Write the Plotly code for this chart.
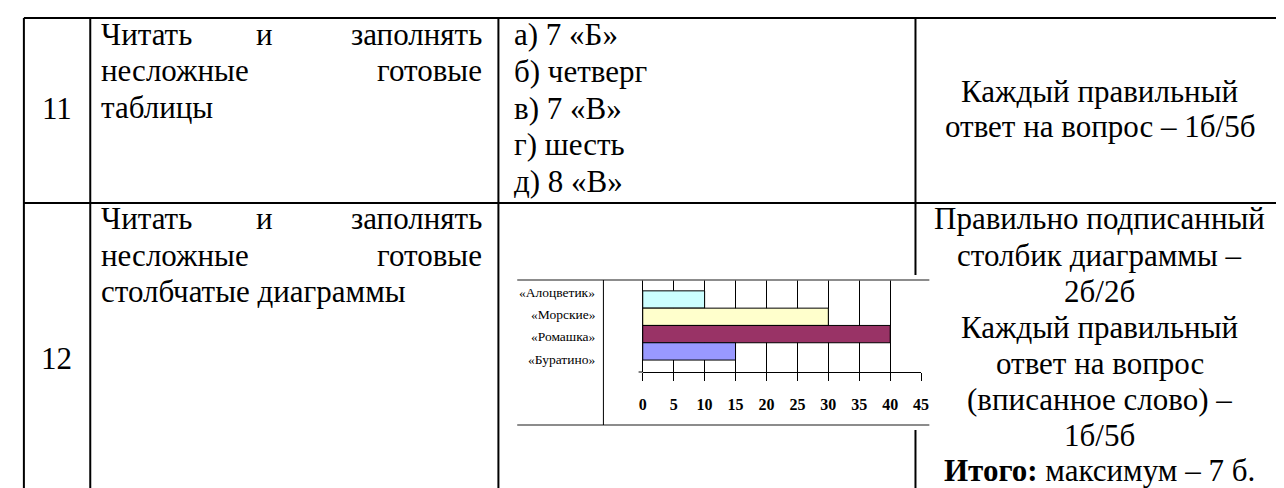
import plotly.graph_objects as go

# ---- chart data ----
categories = ["«Алоцветик»", "«Морские»", "«Ромашка»", "«Буратино»"]
values = [10, 30, 40, 15]
bar_colors = ["#CCFFFF", "#FFFFCC", "#993366", "#9999FF"]
x_ticks = [0, 5, 10, 15, 20, 25, 30, 35, 40, 45]

# ---- table text ----
row_numbers = ["11", "12"]
answers_11 = ["а) 7 «Б»", "б) четверг", "в) 7 «В»", "г) шесть", "д) 8 «В»"]
criteria_11 = ["Каждый правильный", "ответ на вопрос – 1б/5б"]
criteria_12 = ["Правильно подписанный", "столбик диаграммы –", "2б/2б",
               "Каждый правильный", "ответ на вопрос", "(вписанное слово) –",
               "1б/5б"]

W, H = 1284, 488
def px(x):
    return x / W
def py(y):
    return 1 - y / H

SERIF = "Liberation Serif, Times New Roman, serif"
FS = 31
LH = 36.0
TOP11 = 27
TOP12 = 211

fig = go.Figure()
fig.add_trace(go.Bar(
    x=values, y=categories, orientation="h", width=1,
    marker=dict(color=bar_colors, line=dict(color="black", width=1)),
    hoverinfo="skip", showlegend=False,
))

fig.update_layout(
    width=W, height=H, margin=dict(l=0, r=0, t=0, b=0),
    paper_bgcolor="white", plot_bgcolor="white",
    xaxis=dict(domain=[px(636.7), px(917.7)], range=[0, 45],
               tickmode="array", tickvals=x_ticks,
               showgrid=True, gridcolor="black", gridwidth=1,
               zeroline=True, zerolinecolor="black", zerolinewidth=1,
               showline=True, linecolor="black", linewidth=1,
               ticks="outside", ticklen=8, tickcolor="black", tickwidth=1,
               ticklabelstandoff=10,
               tickfont=dict(family=SERIF, size=16, color="black", weight="bold")),
    yaxis=dict(domain=[py(364), py(272)], type="category",
               categoryorder="array", categoryarray=categories,
               range=[4.191, -1.127], showticklabels=False,
               showgrid=False, zeroline=False, showline=False, ticks=""),
)

shapes = []
def line(x0, y0, x1, y1, color="black", width=2):
    shapes.append(dict(type="line", xref="paper", yref="paper",
                       x0=px(x0), y0=py(y0), x1=px(x1), y1=py(y1),
                       line=dict(color=color, width=width)))

# table grid
line(12, 10, W, 10)
line(12, 195, W, 195)
line(12, 10, 12, H)
line(79, 10, 79, H)
line(491, 10, 491, H)
line(912, 10, 912, 267)
line(912, 422, 912, H)
# chart frame
line(510, 272, 926, 272, color="#666666", width=1.6)
line(510, 417, 926, 417, color="#666666", width=1.6)
line(597, 272, 597, 417, color="black", width=1)
line(632.5, 364, 636.7, 364, color="black", width=1)
fig.update_layout(shapes=shapes)

ann = []
def text(s, x, y, xanchor="left", size=FS, yanchor="middle"):
    ann.append(dict(text=s, xref="paper", yref="paper",
                    x=px(x), y=py(y), xanchor=xanchor, yanchor=yanchor,
                    showarrow=False, font=dict(family=SERIF, size=size, color="black")))

# legend-like labels of the chart
for i, c in enumerate(categories):
    text(c, 591, 284 + 22.4 * i, xanchor="right", size=13.5)

# column 1: row numbers
text(row_numbers[0], 45, 101, xanchor="center")
text(row_numbers[1], 45, 350, xanchor="center")

# column 2 (justified)
for top in (TOP11, TOP12):
    text("Читать", 88, top)
    text("и", 255, top, xanchor="center")
    text("заполнять", 476, top, xanchor="right")
    text("несложные", 88, top + LH)
    text("готовые", 476, top + LH, xanchor="right")
text("таблицы", 88, TOP11 + 2 * LH)
text("столбчатые диаграммы", 88, TOP12 + 2 * LH)

# column 3 row 11
for i, s in enumerate(answers_11):
    text(s, 505, TOP11 + LH * i + 0.5 * i)

# column 4
for i, s in enumerate(criteria_11):
    text(s, 1098, 83 + LH * i, xanchor="center")
for i, s in enumerate(criteria_12):
    text(s, 1098, TOP12 + LH * i, xanchor="center")
text("<b>Итого:</b> максимум – 7 б.", 1098, H - 6, xanchor="center", yanchor="bottom")

fig.update_layout(annotations=ann)
fig.write_html("out.html")
